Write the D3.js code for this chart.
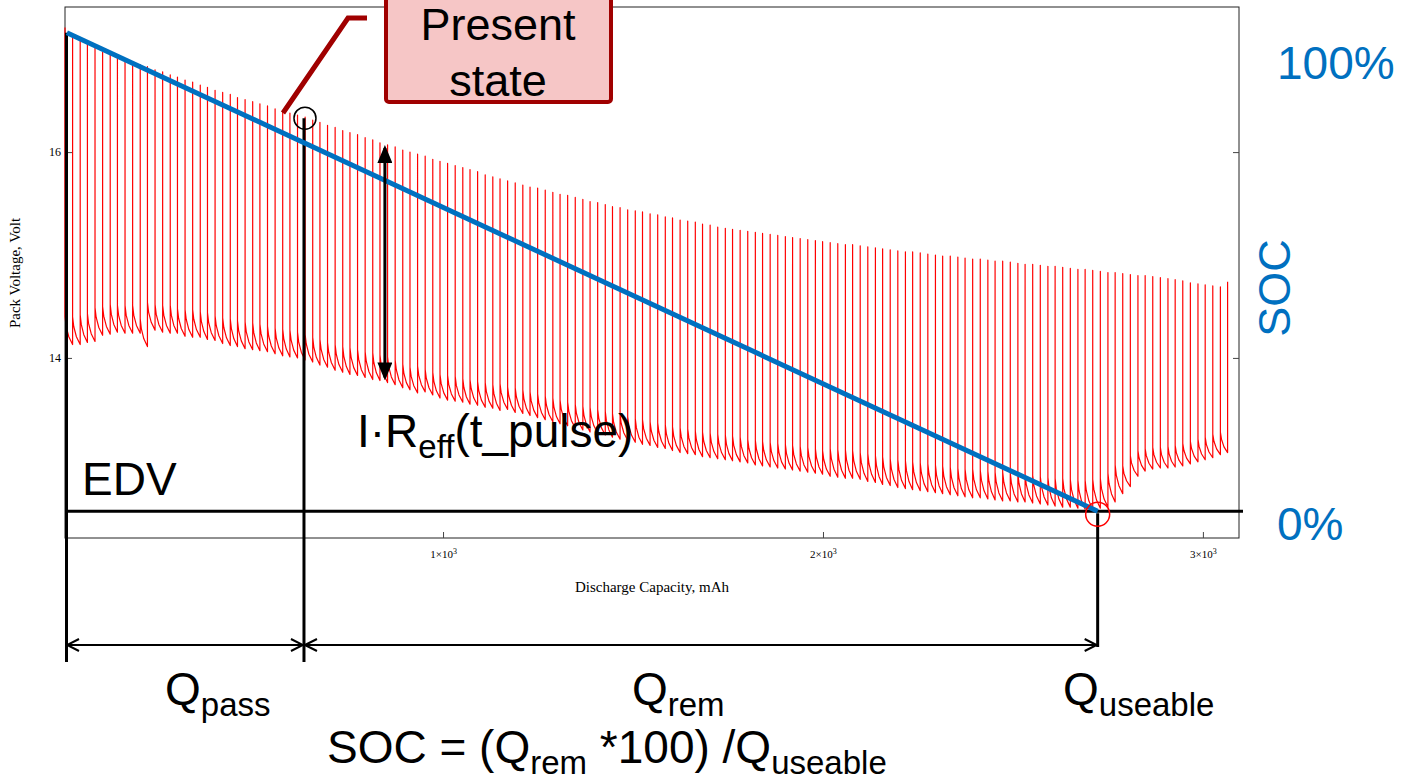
<!DOCTYPE html>
<html>
<head>
<meta charset="utf-8">
<script src="https://cdn.jsdelivr.net/npm/d3@7"></script>
<style>
body { margin: 0; background: #fff; }
svg text { font-family: Arial, "Liberation Sans", sans-serif; white-space: pre; }
.serif { font-family: "Times New Roman", "Liberation Serif", serif !important; }
</style>
</head>
<body>
<svg id="chart" width="1402" height="784"></svg>
<script>
// pulse discharge test, one entry per pulse
// capacity at the start of each pulse (mAh)
const pulseCap = [
  5, 25, 45, 64, 84, 104, 124, 143, 163, 183,
  203, 222, 242, 262, 282, 301, 321, 341, 361, 380,
  400, 420, 440, 459, 479, 499, 518, 538, 558, 578,
  597, 617, 637, 657, 676, 696, 716, 736, 755, 775,
  795, 815, 834, 854, 874, 894, 913, 933, 953, 973,
  992, 1012, 1032, 1052, 1071, 1091, 1111, 1131, 1150, 1170,
  1190, 1210, 1229, 1249, 1269, 1289, 1308, 1328, 1348, 1368,
  1387, 1407, 1427, 1446, 1466, 1486, 1506, 1525, 1545, 1565,
  1585, 1604, 1624, 1644, 1664, 1683, 1703, 1723, 1743, 1762,
  1782, 1802, 1822, 1841, 1861, 1881, 1901, 1920, 1940, 1960,
  1980, 1999, 2019, 2039, 2059, 2078, 2098, 2118, 2138, 2157,
  2177, 2197, 2217, 2236, 2256, 2276, 2296, 2315, 2335, 2355,
  2374, 2394, 2414, 2434, 2453, 2473, 2493, 2513, 2532, 2552,
  2572, 2592, 2611, 2631, 2651, 2671, 2690, 2710, 2730, 2750,
  2769, 2789, 2809, 2829, 2848, 2868, 2888, 2908, 2927, 2947,
  2967, 2987, 3006, 3026, 3046, 3065
]
// rested pack voltage just before each pulse (V)
const restV = [
  17.21, 17.13, 17.09, 17.05, 17.01, 16.97, 16.95, 16.92, 16.90, 16.88,
  16.85, 16.83, 16.80, 16.78, 16.75, 16.73, 16.70, 16.68, 16.65, 16.63,
  16.60, 16.58, 16.56, 16.53, 16.51, 16.49, 16.47, 16.45, 16.42, 16.40,
  16.38, 16.36, 16.34, 16.31, 16.29, 16.26, 16.24, 16.21, 16.19, 16.17,
  16.14, 16.12, 16.09, 16.07, 16.05, 16.02, 16.00, 15.98, 15.96, 15.93,
  15.91, 15.89, 15.87, 15.85, 15.83, 15.81, 15.78, 15.76, 15.74, 15.72,
  15.70, 15.68, 15.66, 15.65, 15.63, 15.61, 15.59, 15.58, 15.56, 15.54,
  15.52, 15.51, 15.49, 15.47, 15.46, 15.44, 15.43, 15.42, 15.40, 15.39,
  15.37, 15.36, 15.34, 15.33, 15.32, 15.30, 15.29, 15.27, 15.26, 15.25,
  15.24, 15.23, 15.22, 15.21, 15.20, 15.19, 15.18, 15.17, 15.16, 15.15,
  15.14, 15.13, 15.12, 15.11, 15.10, 15.10, 15.09, 15.08, 15.07, 15.06,
  15.05, 15.04, 15.03, 15.03, 15.02, 15.01, 15.00, 14.99, 14.99, 14.98,
  14.97, 14.96, 14.96, 14.95, 14.94, 14.94, 14.93, 14.92, 14.91, 14.91,
  14.90, 14.89, 14.89, 14.88, 14.87, 14.86, 14.86, 14.85, 14.84, 14.83,
  14.83, 14.82, 14.81, 14.80, 14.80, 14.79, 14.78, 14.77, 14.76, 14.75,
  14.73, 14.72, 14.71, 14.70, 14.69, 14.74
]
// voltage at the end of each load step (V)
const endV = [
  14.13, 14.13, 14.15, 14.16, 14.22, 14.23, 14.25, 14.24, 14.24, 14.24,
  14.11, 14.27, 14.25, 14.24, 14.24, 14.21, 14.20, 14.20, 14.18, 14.17,
  14.14, 14.12, 14.11, 14.09, 14.08, 14.07, 14.06, 14.04, 14.02, 14.01,
  14.00, 13.98, 13.96, 13.93, 13.91, 13.88, 13.86, 13.84, 13.83, 13.81,
  13.79, 13.78, 13.76, 13.74, 13.71, 13.69, 13.66, 13.67, 13.64, 13.61,
  13.59, 13.58, 13.57, 13.55, 13.54, 13.52, 13.51, 13.49, 13.50, 13.47,
  13.46, 13.44, 13.42, 13.40, 13.38, 13.36, 13.34, 13.32, 13.30, 13.28,
  13.27, 13.25, 13.23, 13.21, 13.20, 13.18, 13.16, 13.15, 13.13, 13.12,
  13.10, 13.08, 13.07, 13.06, 13.04, 13.03, 13.02, 13.01, 13.00, 12.99,
  12.98, 12.96, 12.95, 12.94, 12.93, 12.92, 12.91, 12.90, 12.89, 12.88,
  12.87, 12.85, 12.84, 12.83, 12.83, 12.82, 12.80, 12.79, 12.77, 12.76,
  12.74, 12.73, 12.72, 12.71, 12.70, 12.69, 12.68, 12.67, 12.66, 12.65,
  12.64, 12.64, 12.63, 12.62, 12.61, 12.61, 12.60, 12.60, 12.59, 12.58,
  12.57, 12.56, 12.55, 12.55, 12.54, 12.53, 12.53, 12.54, 12.55, 12.60,
  12.68, 12.75, 12.85, 12.90, 12.92, 12.93, 12.93, 12.94, 12.95, 12.97,
  12.99, 13.01, 13.03, 13.06, 13.08
]
// voltage sag while the load is on (load start minus end), V
const sagV = [
  0.27, 0.27, 0.27, 0.27, 0.27, 0.27, 0.27, 0.27, 0.27, 0.27, 0.27, 0.27, 0.27, 0.27, 0.27,
  0.27, 0.27, 0.27, 0.27, 0.27, 0.27, 0.27, 0.27, 0.27, 0.27, 0.27, 0.27, 0.27, 0.27, 0.27,
  0.27, 0.27, 0.27, 0.27, 0.27, 0.27, 0.27, 0.27, 0.27, 0.27, 0.27, 0.27, 0.27, 0.27, 0.27,
  0.25, 0.25, 0.25, 0.25, 0.25, 0.25, 0.25, 0.25, 0.25, 0.25, 0.25, 0.25, 0.25, 0.25, 0.25,
  0.25, 0.25, 0.25, 0.25, 0.25, 0.25, 0.25, 0.25, 0.25, 0.25, 0.25, 0.25, 0.25, 0.25, 0.25,
  0.25, 0.25, 0.25, 0.25, 0.25, 0.25, 0.25, 0.25, 0.25, 0.25, 0.25, 0.25, 0.25, 0.25, 0.25,
  0.25, 0.25, 0.25, 0.25, 0.25, 0.25, 0.25, 0.25, 0.25, 0.25, 0.25, 0.25, 0.28, 0.28, 0.28,
  0.28, 0.28, 0.28, 0.28, 0.28, 0.28, 0.28, 0.28, 0.28, 0.28, 0.28, 0.28, 0.28, 0.28, 0.28,
  0.28, 0.28, 0.28, 0.28, 0.28, 0.28, 0.28, 0.28, 0.28, 0.28, 0.28, 0.28, 0.28, 0.28, 0.28,
  0.28, 0.28, 0.28, 0.28, 0.28, 0.28, 0.20, 0.20, 0.20, 0.20, 0.20, 0.20, 0.20, 0.20, 0.20,
  0.20, 0.20, 0.20, 0.20, 0.20
]

const xTicks = [1000, 2000, 3000]
const yTicks = [14, 16]

// annotation values
const edv = 12.51          // end of discharge voltage
const qPass = 634          // capacity passed at the present state, mAh
const qUseable = 2723      // capacity when the loaded voltage hits EDV, mAh
const presentV = 16.33
const socLine = [{ cap: 10, soc: 100 }, { cap: qUseable, soc: 0 }]
const irCap = 847
const irRange = [16.04, 13.81]

const svg = d3.select('#chart')

const margin = { left: 65, right: 1239, top: 7, bottom: 538 }

const x = d3.scaleLinear().domain([5, 3095]).range([margin.left, margin.right])
const y = d3.scaleLinear().domain([12.25, 17.41]).range([margin.bottom, margin.top])
const soc = d3.scaleLinear().domain([0, 100]).range([y(edv), y(17.16)])

const defs = svg.append('defs')
defs.append('marker')
  .attr('id', 'solidHead')
  .attr('viewBox', '0 0 18 15')
  .attr('refX', 15).attr('refY', 7.5)
  .attr('markerWidth', 18).attr('markerHeight', 15)
  .attr('markerUnits', 'userSpaceOnUse')
  .attr('orient', 'auto-start-reverse')
  .append('path').attr('d', 'M0,0 L18,7.5 L0,15 Z').attr('fill', '#000')
defs.append('marker')
  .attr('id', 'openHead')
  .attr('viewBox', '-2 -2 16 16')
  .attr('refX', 12).attr('refY', 6)
  .attr('markerWidth', 16).attr('markerHeight', 16)
  .attr('markerUnits', 'userSpaceOnUse')
  .attr('orient', 'auto-start-reverse')
  .append('path').attr('d', 'M0,0 L12,6 L0,12').attr('fill', 'none')
  .attr('stroke', '#000').attr('stroke-width', 2)

// frame
svg.append('rect')
  .attr('x', margin.left).attr('y', margin.top)
  .attr('width', margin.right - margin.left).attr('height', margin.bottom - margin.top)
  .attr('fill', 'none').attr('stroke', '#222').attr('stroke-width', 1)

// axes
const xAxis = svg.append('g')
  .attr('transform', `translate(0,${margin.bottom})`)
  .call(d3.axisBottom(x).tickValues(xTicks).tickSize(-6).tickPadding(12)
    .tickFormat(d => `${d / 1000}×10`))
xAxis.select('.domain').remove()
xAxis.selectAll('.tick text').attr('class', 'serif').attr('font-size', 11)
  .append('tspan').attr('dy', '-0.5em').attr('font-size', 8).text('3')
xAxis.selectAll('.tick line').attr('stroke', '#444')

const yAxis = svg.append('g')
  .attr('transform', `translate(${margin.left},0)`)
  .call(d3.axisLeft(y).tickValues(yTicks).tickSize(-7).tickPadding(4).tickFormat(d3.format('d')))
yAxis.select('.domain').remove()
yAxis.selectAll('.tick text').attr('class', 'serif').attr('font-size', 12)
yAxis.selectAll('.tick line').attr('stroke', '#444')

const yAxisR = svg.append('g')
  .attr('transform', `translate(${margin.right},0)`)
  .call(d3.axisRight(y).tickValues(yTicks).tickSize(-6).tickFormat(''))
yAxisR.select('.domain').remove()
yAxisR.selectAll('.tick line').attr('stroke', '#444')

svg.append('text').attr('class', 'serif')
  .attr('x', 652).attr('y', 592).attr('text-anchor', 'middle').attr('font-size', 15)
  .text('Discharge Capacity, mAh')
svg.append('text').attr('class', 'serif')
  .attr('transform', 'translate(20,273) rotate(-90)')
  .attr('text-anchor', 'middle').attr('font-size', 15)
  .text('Pack Voltage, Volt')

// pulse trace: drop at pulse start, sag while loaded, recover at the pulse end
const sagShape = [[0.15, 0.35], [0.5, 0.72], [1, 1]]
let trace = []
for (let i = 0; i < endV.length; i++) {
  let c0 = pulseCap[i], c1 = pulseCap[i + 1]
  let v0 = endV[i] + sagV[i]
  trace.push([c0, restV[i]])
  trace.push([c0, v0])
  for (let [ft, fv] of sagShape) {
    trace.push([c0 + (c1 - c0) * ft, v0 - sagV[i] * fv])
  }
}
trace.push([pulseCap[pulseCap.length - 1], restV[restV.length - 1]])

const line = d3.line().x(d => x(d[0])).y(d => y(d[1]))
svg.append('path')
  .datum(trace)
  .attr('d', line)
  .attr('fill', 'none')
  .attr('stroke', '#ff0000')
  .attr('stroke-width', 1.2)
  .attr('stroke-linejoin', 'round')

// EDV line
svg.append('line')
  .attr('x1', margin.left).attr('x2', margin.right + 4)
  .attr('y1', y(edv)).attr('y2', y(edv))
  .attr('stroke', '#000').attr('stroke-width', 3)

// vertical markers at start, present state and useable capacity
const arrowY = 645
svg.append('line')
  .attr('x1', x(5) + 1.5).attr('x2', x(5) + 1.5)
  .attr('y1', soc(100)).attr('y2', 662)
  .attr('stroke', '#000').attr('stroke-width', 3)
svg.append('line')
  .attr('x1', x(qPass)).attr('x2', x(qPass))
  .attr('y1', y(presentV)).attr('y2', 662)
  .attr('stroke', '#000').attr('stroke-width', 3)
svg.append('line')
  .attr('x1', x(qUseable)).attr('x2', x(qUseable))
  .attr('y1', y(edv) + 2).attr('y2', arrowY + 2)
  .attr('stroke', '#000').attr('stroke-width', 3)

// SOC line
svg.append('path')
  .datum(socLine)
  .attr('d', d3.line().x(d => x(d.cap)).y(d => soc(d.soc)))
  .attr('fill', 'none')
  .attr('stroke', '#0070c0')
  .attr('stroke-width', 5)

// circles
svg.append('circle')
  .attr('cx', x(qPass) + 1).attr('cy', y(presentV)).attr('r', 11)
  .attr('fill', 'none').attr('stroke', '#000').attr('stroke-width', 1.5)
svg.append('circle')
  .attr('cx', x(qUseable)).attr('cy', y(edv) + 3).attr('r', 12)
  .attr('fill', 'none').attr('stroke', '#ff0000').attr('stroke-width', 1.5)

// I*R arrow
svg.append('line')
  .attr('x1', x(irCap)).attr('x2', x(irCap))
  .attr('y1', y(irRange[0])).attr('y2', y(irRange[1]))
  .attr('stroke', '#000').attr('stroke-width', 3)
  .attr('marker-start', 'url(#solidHead)')
  .attr('marker-end', 'url(#solidHead)')

// capacity arrows
svg.append('line')
  .attr('x1', x(5) + 2).attr('x2', x(qPass) - 1)
  .attr('y1', arrowY).attr('y2', arrowY)
  .attr('stroke', '#000').attr('stroke-width', 2)
  .attr('marker-start', 'url(#openHead)').attr('marker-end', 'url(#openHead)')
svg.append('line')
  .attr('x1', x(qPass) + 1).attr('x2', x(qUseable) - 1)
  .attr('y1', arrowY).attr('y2', arrowY)
  .attr('stroke', '#000').attr('stroke-width', 2)
  .attr('marker-start', 'url(#openHead)').attr('marker-end', 'url(#openHead)')

// callout
svg.append('polyline')
  .attr('points', `${x(qPass) - 21},113 348,18 367,18`)
  .attr('fill', 'none').attr('stroke', '#a00000').attr('stroke-width', 5)
svg.append('rect')
  .attr('x', 386).attr('y', -10).attr('width', 225).attr('height', 112).attr('rx', 3)
  .attr('fill', '#f6c6c6').attr('stroke', '#a00000').attr('stroke-width', 4)
svg.append('text').attr('x', 498).attr('y', 40).attr('text-anchor', 'middle')
  .attr('font-size', 45).text('Present')
svg.append('text').attr('x', 498).attr('y', 96).attr('text-anchor', 'middle')
  .attr('font-size', 45).text('state')

// rich text with subscripts
function richText(tx, ty, parts, size, subSize, color) {
  const t = svg.append('text').attr('x', tx).attr('y', ty)
    .attr('font-size', size).attr('fill', color || '#000')
  let shifted = false
  for (let [str, sub] of parts) {
    let dy = 0
    if (sub && !shifted) { dy = 11; shifted = true }
    if (!sub && shifted) { dy = -11; shifted = false }
    t.append('tspan').attr('dy', dy).attr('font-size', sub ? subSize : size).text(str)
  }
  return t
}

svg.append('text').attr('x', 1277).attr('y', 79).attr('font-size', 46)
  .attr('fill', '#0070c0').text('100%')
svg.append('text').attr('x', 1277).attr('y', 540).attr('font-size', 46)
  .attr('fill', '#0070c0').text('0%')
svg.append('text').attr('transform', 'translate(1290,288) rotate(-90)')
  .attr('text-anchor', 'middle').attr('font-size', 45)
  .attr('fill', '#0070c0').text('SOC')

svg.append('text').attr('x', 82).attr('y', 495).attr('font-size', 46).text('EDV')

richText(357, 447, [['I·R'], ['eff', true], ['(t_pulse)']], 46, 33)
richText(165, 705, [['Q'], ['pass', true]], 46, 33)
richText(632, 705, [['Q'], ['rem', true]], 46, 33)
richText(1063, 705, [['Q'], ['useable', true]], 46, 33)
richText(327, 763, [['SOC = (Q'], ['rem', true], [' *100) /Q'], ['useable', true]], 46, 33)
</script>
</body>
</html>
